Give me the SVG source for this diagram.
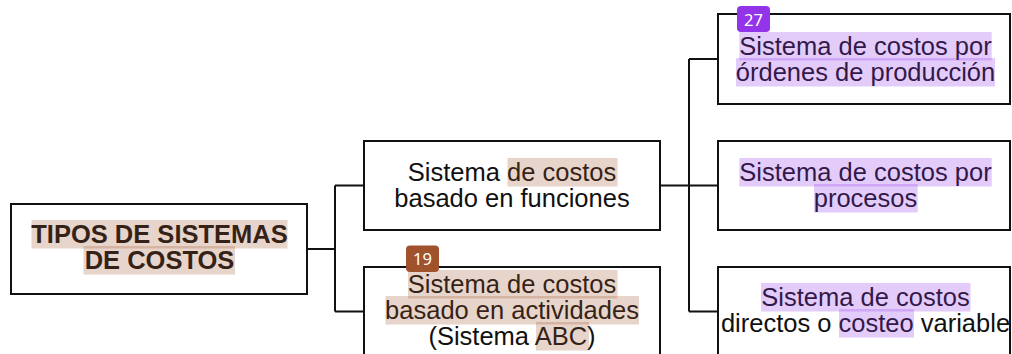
<svg xmlns="http://www.w3.org/2000/svg" width="1012" height="354" viewBox="0 0 1012 354">
<style>
.box{fill:#fff;stroke:#111;stroke-width:2}
.t{font-family:"Liberation Sans",Arial,sans-serif;font-size:25.5px;fill:#111;text-anchor:middle}
.b{font-weight:bold}
.hb{fill:#a0522d;fill-opacity:0.25}
.hp{fill:#9333ea;fill-opacity:0.25}
.ln{fill:none;stroke:#111;stroke-width:2}
.bt{font-family:"Noto Sans","Open Sans",sans-serif;font-size:16.5px;fill:#fff;text-anchor:middle}
</style>
<rect width="1012" height="354" fill="#fff"/>
<g id="connectors">
<path class="ln" d="M307 249H335M335 185.5V311.5M335 185.5H364M335 311.5H364"/>
<path class="ln" d="M660 185.5H689M689 59V311.5M689 59H718M689 185.5H718M689 311.5H718"/>
</g>
<g id="root">
<rect class="box" x="11" y="204" width="296" height="90"/>
<text class="t b" x="159.5" y="242.5">TIPOS DE SISTEMAS</text>
<text class="t b" x="159.5" y="268.5">DE COSTOS</text>
<rect class="hb" x="31.5" y="220" width="256" height="28.5"/>
<rect class="hb" x="83.5" y="246" width="151.5" height="28.5"/>
</g>
<g id="funciones">
<rect class="box" x="364" y="141" width="296" height="89"/>
<text class="t" x="512" y="181">Sistema de costos</text>
<text class="t" x="512" y="207">basado en funciones</text>
<rect class="hb" x="507.5" y="158" width="110" height="28.5"/>
</g>
<g id="actividades">
<rect class="box" x="364" y="267" width="296" height="89"/>
<text class="t" x="512" y="293">Sistema de costos</text>
<text class="t" x="512" y="319">basado en actividades</text>
<text class="t" x="512" y="345">(Sistema ABC)</text>
<rect class="hb" x="408" y="270" width="209.5" height="28.5"/>
<rect class="hb" x="385.5" y="296" width="253.5" height="28.5"/>
<rect class="hb" x="536" y="322" width="53" height="28.5"/>
</g>
<g id="ordenes">
<rect class="box" x="718" y="14" width="292" height="90"/>
<text class="t" x="865.5" y="55">Sistema de costos por</text>
<text class="t" x="865.5" y="81">órdenes de producción</text>
<rect class="hp" x="739.3" y="32" width="252.4" height="28.5"/>
<rect class="hp" x="736" y="58" width="259" height="28.5"/>
</g>
<g id="procesos">
<rect class="box" x="718" y="141" width="292" height="89"/>
<text class="t" x="865.5" y="181">Sistema de costos por</text>
<text class="t" x="865.5" y="207">procesos</text>
<rect class="hp" x="739.3" y="158" width="252.4" height="28.5"/>
<rect class="hp" x="814" y="184" width="103.7" height="28.5"/>
</g>
<g id="directos">
<rect class="box" x="718" y="267" width="292" height="89"/>
<text class="t" x="865.5" y="306">Sistema de costos</text>
<text class="t" x="865.5" y="332">directos o costeo variable</text>
<rect class="hp" x="761" y="283" width="209.5" height="28.5"/>
<rect class="hp" x="839" y="309" width="75" height="28.5"/>
</g>
<g id="badges">
<rect x="406" y="245.5" width="33" height="26.5" rx="4" fill="#a0522d"/>
<text class="bt" x="422.5" y="265">19</text>
<rect x="737" y="6" width="33" height="26" rx="4" fill="#9333ea"/>
<text class="bt" x="753.5" y="25.5">27</text>
</g>
</svg>
